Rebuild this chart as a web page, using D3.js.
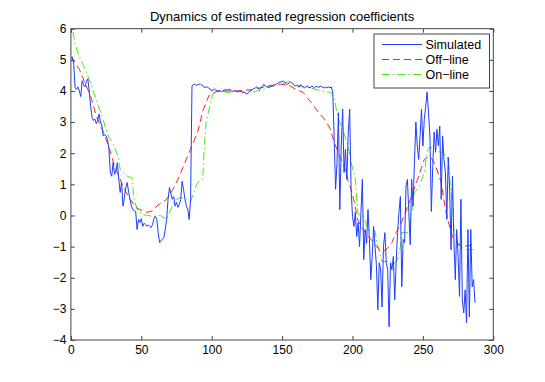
<!DOCTYPE html>
<html>
<head>
<meta charset="utf-8">
<script src="https://cdn.jsdelivr.net/npm/d3@7"></script>
<style>
  html, body { margin: 0; padding: 0; background: #fff; }
  svg { display: block; font-family: 'Liberation Sans', Arial, Helvetica, sans-serif; }
</style>
</head>
<body>
<div class="chart"></div>
<script>
const title = 'Dynamics of estimated regression coefficients';
const xTicks = [0, 50, 100, 150, 200, 250, 300];
const yTicks = [-4, -3, -2, -1, 0, 1, 2, 3, 4, 5, 6];
const seriesNames = ['Simulated', 'Off\u2212line', 'On\u2212line'];

// simulated coefficient, one value per step starting at step 1
const simulated = [
  5.1, 4.85, 4.1, 4.05, 4.13, 4.0, 3.82, 4.33, 4.2, 4.13,
  4.3, 4.39, 4.0, 3.5, 3.16, 3.05, 3.1, 2.95, 3.05, 3.26,
  3.0, 2.88, 2.55, 2.6, 2.55, 2.45, 2.13, 1.38, 1.26, 1.7,
  1.32, 1.45, 1.7, 1.16, 0.74, 1.06, 0.3, 0.58, 0.9, 1.06,
  0.75, 0.52, 0.3, 0.19, 0.15, 0.13, -0.45, -0.13, -0.23, -0.1,
  -0.35, -0.25, -0.29, -0.35, -0.3, -0.35, -0.39, -0.29, -0.1, -0.03,
  -0.13, -0.55, -0.87, -0.8, -0.77, -0.71, -0.45, -0.13, 0.52, 0.9,
  0.7, 0.52, 0.61, 0.3, 0.42, 0.26, 0.35, 0.52, 1.1, 0.84,
  0.52, 0.3, 0.2, -0.13, 0.52, 4.16, 4.2, 4.22, 4.18, 4.2,
  4.22, 4.22, 4.18, 4.16, 4.1, 4.13, 4.13, 4.08, 4.06, 4.0,
  4.03, 4.06, 4.03, 4.0, 4.02, 4.0, 3.98, 4.0, 4.03, 4.05,
  4.02, 4.06, 4.04, 4.0, 3.98, 4.02, 4.0, 3.98, 3.97, 4.0,
  3.97, 3.94, 3.97, 3.92, 3.9, 3.95, 4.0, 4.0, 4.05, 4.08,
  4.1, 4.13, 4.1, 4.06, 4.1, 4.15, 4.22, 4.15, 4.13, 4.13,
  4.1, 4.15, 4.16, 4.16, 4.2, 4.22, 4.25, 4.28, 4.29, 4.3,
  4.32, 4.28, 4.22, 4.22, 4.26, 4.29, 4.25, 4.2, 4.16, 4.18,
  4.16, 4.12, 4.2, 4.15, 4.13, 4.1, 4.14, 4.16, 4.12, 4.1,
  4.16, 4.13, 4.1, 4.14, 4.15, 4.1, 4.16, 4.14, 4.12, 4.1,
  4.13, 4.1, 4.13, 4.1, 4.13, 3.97, 2.45, 0.84, 1.7, 3.3,
  0.19, 2.23, 3.42, 1.38, 2.13, 1.16, 2.68, 3.42, 0.84, -0.03,
  -0.35, 0.1, -0.68, -0.23, -1.0, 0.1, 1.16, -1.42, -0.45, -0.9,
  0.19, -0.77, -2.06, -1.32, -0.35, -1.0, -1.6, -3.03, -1.52, -1.74,
  -2.94, -1.0, -0.55, -1.52, -1.74, -3.58, -1.52, -1.74, -1.32, -2.71,
  -1.52, -0.55, 0.1, 0.61, -2.29, -0.77, -0.87, 0.94, 1.16, 0.1,
  -0.94, 1.16, 0.3, 1.7, 3.0, 2.23, 1.8, 2.55, 3.42, 2.23,
  3.1, 3.5, 3.97, 3.3, 2.55, 0.13, 1.58, 2.68, 2.03, 2.77,
  2.23, 2.87, 0.52, 2.55, 1.8, 1.38, -0.13, 1.87, 0.84, -1.1,
  1.26, -0.77, -2.06, -0.45, -1.32, -2.6, 0.52, -2.71, -3.13, -2.39,
  -3.45, -0.45, -3.26, -0.45, -2.29, -2.06, -2.8
];

// off-line estimate, [step, value]
const offline = [
  [0, 5.1], [6, 4.7], [10, 4.25], [14, 3.84], [18, 3.2], [23, 2.68], [27, 2.2],
  [31, 1.58], [37, 0.94], [42, 0.52], [47, 0.23], [54, 0.1], [58, 0.15], [61, 0.3],
  [68, 0.52], [72, 0.8], [76, 1.16], [81, 1.7], [85, 2.13], [90, 2.68], [94, 3.4],
  [98, 3.85], [102, 3.96], [106, 4.0], [118, 4.0], [130, 4.05], [140, 4.16],
  [149, 4.22], [155, 4.18], [160, 4.05], [165, 3.95], [168, 3.78], [172, 3.55],
  [176, 3.3], [180, 3.1], [184, 2.8], [187, 2.35], [191, 1.9], [194, 1.6],
  [197, 1.1], [199, 0.84], [202, 0.3], [203, -0.06], [206, -0.35], [209, -0.55],
  [215, -0.87], [219, -1.1], [222, -1.16], [225, -1.05], [228, -0.87], [231, -0.55],
  [234, -0.3], [237, 0.03], [241, 0.5], [245, 1.0], [248, 1.4], [251, 1.8],
  [254, 1.9], [256, 1.85], [259, 1.6], [263, 1.06], [266, 0.2], [268, -0.2],
  [271, -0.68], [275, -0.9], [278, -1.0], [282, -0.97], [286, -0.94]
];

// on-line estimate, [step, value]
const online = [
  [1.5, 5.9], [3, 5.5], [6, 5.1], [10, 4.7], [13.6, 4.3], [17, 3.84], [22, 3.2],
  [26.5, 2.55], [30, 2.3], [33.6, 1.9], [35, 1.48], [40, 1.26], [43.6, 1.2],
  [44.5, 0.6], [47, 0.2], [51, 0.03], [58.6, -0.03], [63.5, 0.0], [68, -0.13],
  [71, 0.2], [74, 0.5], [78, 0.58], [83, 0.52], [85, 0.45], [90, 1.06],
  [93.6, 1.16], [94.5, 2.0], [96, 3.0], [100.7, 3.9], [106, 4.0], [112, 3.95],
  [118, 4.0], [122, 3.98], [127, 3.92], [132, 4.0], [137, 4.05], [142, 4.16],
  [148, 4.2], [154, 4.3], [157, 4.28], [160, 4.2], [165, 4.13], [170, 4.1],
  [178, 4.0], [185, 3.95], [187, 3.74], [190, 3.1], [193, 2.77], [197, 2.2],
  [199, 1.7], [202, 1.16], [203, 0.5], [204, 0.03], [208, -0.03], [211, -0.45],
  [216, -0.5], [217, -0.77], [221, -1.48], [225, -1.48], [229, -1.58], [232, -1.42],
  [234, -1.0], [235, -0.55], [240, -0.55], [241, -0.23], [242, 0.1], [244, 0.74],
  [247, 0.9], [251, 1.38], [253, 2.06], [255, 2.2], [261, 2.06], [264, 2.03],
  [268, 1.8], [269, 1.16], [270.7, 0.5], [271.5, 0.4], [272, -0.5], [275.7, -1.0],
  [281, -1.1], [286, -1.1]
];

const config = {
  width: 545,
  height: 382,
  left: 70.9,
  right: 493.3,
  top: 28.7,
  bottom: 340
};

const svg = d3.select('.chart')
  .append('svg')
  .attr('width', config.width)
  .attr('height', config.height);

const x = d3.scaleLinear().domain([0, 300]).range([config.left, config.right]);
const y = d3.scaleLinear().domain([-4, 6]).range([config.bottom, config.top]);

const plotW = config.right - config.left;
const plotH = config.bottom - config.top;

svg.append('clipPath')
  .attr('id', 'plot-clip')
  .append('rect')
  .attr('x', config.left)
  .attr('y', config.top)
  .attr('width', plotW)
  .attr('height', plotH);

// axes, ticks pointing inwards on all four sides
const axisColor = '#444';
const tickLen = 4;

const gBottom = svg.append('g')
  .attr('transform', `translate(0,${config.bottom})`)
  .call(d3.axisBottom(x).tickValues(xTicks).tickSizeInner(-tickLen).tickSizeOuter(0).tickPadding(5));
const gTop = svg.append('g')
  .attr('transform', `translate(0,${config.top})`)
  .call(d3.axisTop(x).tickValues(xTicks).tickSizeInner(-tickLen).tickSizeOuter(0).tickFormat(''));
const gLeft = svg.append('g')
  .attr('transform', `translate(${config.left},0)`)
  .call(d3.axisLeft(y).tickValues(yTicks).tickSizeInner(-tickLen).tickSizeOuter(0).tickPadding(4.5));
const gRight = svg.append('g')
  .attr('transform', `translate(${config.right},0)`)
  .call(d3.axisRight(y).tickValues(yTicks).tickSizeInner(-tickLen).tickSizeOuter(0).tickFormat(''));

[gBottom, gTop, gLeft, gRight].forEach(g => {
  g.select('.domain').remove();
  g.selectAll('line').attr('stroke', axisColor);
  g.selectAll('text')
    .attr('fill', '#000')
    .attr('font-size', 12)
    .attr('font-family', "'Liberation Sans', Arial, sans-serif");
});

svg.append('rect')
  .attr('x', config.left)
  .attr('y', config.top)
  .attr('width', plotW)
  .attr('height', plotH)
  .attr('fill', 'none')
  .attr('stroke', axisColor)
  .attr('stroke-width', 1);

// series
const lineXY = d3.line()
  .x(d => x(d[0]))
  .y(d => y(d[1]));

const plot = svg.append('g').attr('clip-path', 'url(#plot-clip)');

const styles = [
  { color: '#1f3dff', dash: null },
  { color: '#ff2020', dash: '7,4' },
  { color: '#44ee11', dash: '8,3,1.5,3' }
];

const seriesData = [
  simulated.map((v, i) => [i + 1, v]),
  offline,
  online
];

// draw the fitted curves first, then the simulated trace on top
[2, 1, 0].forEach(i => {
  plot.append('path')
    .datum(seriesData[i])
    .attr('fill', 'none')
    .attr('stroke', styles[i].color)
    .attr('stroke-width', 1)
    .attr('stroke-dasharray', styles[i].dash)
    .attr('stroke-linejoin', 'round')
    .attr('d', lineXY);
});

// title
svg.append('text')
  .attr('x', (config.left + config.right) / 2)
  .attr('y', 20.5)
  .attr('text-anchor', 'middle')
  .attr('font-size', 13)
  .text(title);

// legend
const legend = svg.append('g').attr('transform', 'translate(374,34)');
legend.append('rect')
  .attr('width', 115.5)
  .attr('height', 54)
  .attr('fill', '#fff')
  .attr('stroke', axisColor);

seriesNames.forEach((name, i) => {
  const ly = 10.5 + i * 15;
  legend.append('line')
    .attr('x1', 8)
    .attr('x2', 48)
    .attr('y1', ly)
    .attr('y2', ly)
    .attr('stroke', styles[i].color)
    .attr('stroke-width', 1)
    .attr('stroke-dasharray', styles[i].dash);
  legend.append('text')
    .attr('x', 51.5)
    .attr('y', ly + 4.5)
    .attr('font-size', 12.5)
    .text(name);
});
</script>
</body>
</html>
